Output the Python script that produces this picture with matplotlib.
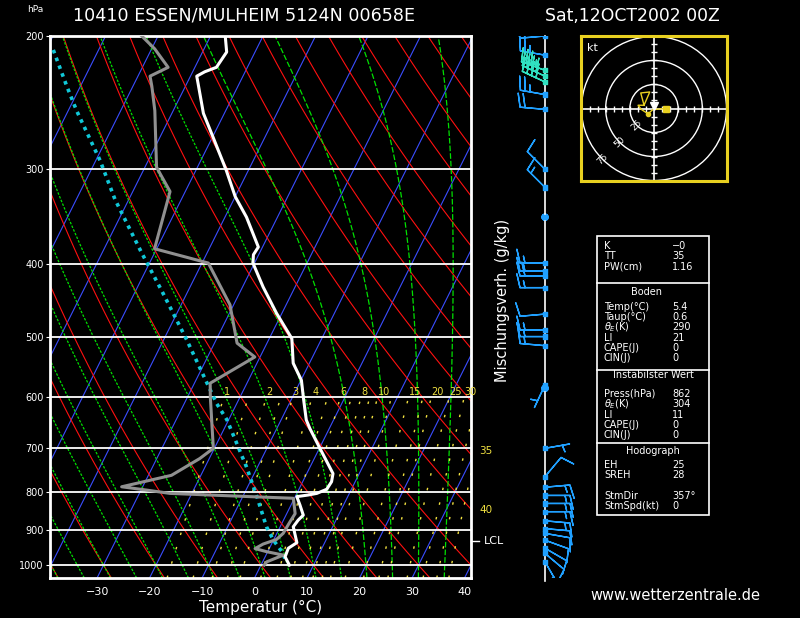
import numpy as np
import matplotlib.pyplot as plt
from matplotlib.transforms import Affine2D
from matplotlib.ticker import NullLocator
from matplotlib.patches import Rectangle, Circle

# ---- Sounding (hPa, degC) ----
temp_p = [1000, 975, 950, 934, 890, 872, 859, 833, 812, 808, 804, 794, 776, 757,
          701, 660, 643, 602, 570, 541, 502, 465, 429, 399, 389, 380, 347, 326,
          301, 272, 253, 233, 226, 223, 220, 210, 200]
temp_t = [5.4, 3.8, 3.6, 4.7, 2.5, 2.8, 3.3, 1.7, 0.3, 2.3, 3.8, 5.3, 5.5, 5.0,
          0.1, -3.7, -5.2, -7.8, -9.9, -13.1, -15.7, -21.0, -26.1, -30.3, -31.0, -30.8, -35.9, -40.0,
          -44.2, -49.9, -54.0, -57.5, -58.8, -57.7, -55.9, -55.4, -57.2]

dew_p = [1000, 990, 970, 960, 951, 938, 925, 908, 877, 855, 816, 812, 804, 796,
         788, 761, 723, 701, 599, 575, 531, 509, 453, 399, 382, 321, 304, 298,
         251, 233, 226, 220, 208, 200]
dew_t = [0.6, 0.8, 3.3, -0.2, -2.7, -1.6, 0.5, 1.2, 1.4, 1.6, -0.2, -8.6, -24.2, -28.9,
         -34.0, -25.6, -21.8, -20.2, -25.7, -27.0, -21.0, -25.7, -30.7, -38.8, -50.4, -52.9, -56.5, -57.8,
         -63.5, -66.4, -67.7, -65.1, -69.4, -73.1]

parcel_p = [980, 965, 927, 890, 812, 742, 643, 612, 575, 504, 435, 386, 329, 292, 251, 233, 208]
parcel_t = [3.9, 3.1, 0.0, -2.6, -7.3, -12.1, -20.3, -23.8, -27.6, -35.6, -44.9, -52.6,
            -62.6, -69.2, -78.4, -82.6, -88.8]

lcl_p = 930

# wind profile: pressure, direction (deg), speed (kt)
wind_p = [200, 212, 222, 226, 230, 239, 250, 300, 317, 347, 399, 409, 415, 430, 466,
          489, 499, 513, 578, 584, 701, 764, 789, 809, 829, 850, 874, 895, 908, 927,
          950, 965, 990]
wind_dir = [265, 280, 290, 295, 295, 280, 275, 315, 315, 0, 270, 270, 270, 270, 265,
            270, 270, 275, 205, 0, 80, 40, 85, 90, 90, 90, 95, 95, 100, 110,
            120, 130, 150]
wind_spd = [20, 25, 35, 40, 40, 25, 20, 10, 15, 0, 15, 15, 20, 15, 10,
            15, 15, 15, 5, 0, 5, 10, 15, 15, 15, 15, 15, 10, 10, 10,
            10, 10, 5]

# hodograph trace (kt)
hodo_u = [12.0, -1.0, -6.2, -13.1, -16.5, -10.3, -13.7, -4.4, -10.3]
hodo_v = [0.0, -1.0, -5.5, -1.0, 3.4, 3.4, 16.2, 17.2, 3.4]

# diagram background
isobars = [200, 300, 400, 500, 600, 700, 800, 900, 1000]
isotherms = np.arange(-130, 50, 10)
dry_theta = np.arange(-50, 170, 10) + 273.15
moist_tw = np.arange(-40, 36, 5)
mix_w = [1, 1.5, 2, 2.5, 3, 4, 5, 6, 7, 8, 9, 10, 12, 15, 18, 20, 25, 30, 35, 40]
mix_labels = [1, 2, 3, 4, 6, 8, 10, 15, 20, 25, 30]

table_top = [('K', '\u22120'), ('TT', '35'), ('PW(cm)', '1.16')]
table_boden = [('Temp(\u00b0C)', '5.4'), ('Taup(\u00b0C)', '0.6'), (r'$\theta_E$(K)', '290'),
               ('LI', '21'), ('CAPE(J)', '0'), ('CIN(J)', '0')]
table_inst = [('Press(hPa)', '862'), (r'$\theta_E$(K)', '304'), ('LI', '11'),
              ('CAPE(J)', '0'), ('CIN(J)', '0')]
table_hodo = [('EH', '25'), ('SREH', '28'), (None, None), ('StmDir', '357\u00b0'), ('StmSpd(kt)', '0')]


def moist_lapse(t, p):
    es = 6.112 * np.exp(17.67 * (t - 273.15) / (t - 29.65))
    rs = 0.622 * es / (p - es)
    return (287.04 * t + 2.501e6 * rs) / (1005.7 + 2.501e6 ** 2 * rs * 0.622 / (287.04 * t ** 2))


def moist_adiabat(tw, pres):
    t = tw + 273.15
    out = [t]
    for p0, p1 in zip(pres[:-1], pres[1:]):
        h = np.log(p1 / p0)
        pm = p0 * np.exp(h / 2)
        k1 = moist_lapse(t, p0)
        k2 = moist_lapse(t + h / 2 * k1, pm)
        k3 = moist_lapse(t + h / 2 * k2, pm)
        k4 = moist_lapse(t + h * k3, p1)
        t = t + h / 6 * (k1 + 2 * k2 + 2 * k3 + k4)
        out.append(t)
    return np.array(out) - 273.15


def dewpoint_from_w(w, p):
    e = w * p / (622 + w)
    a = np.log(e / 6.112)
    return 243.5 * a / (17.67 - a)


fig = plt.figure(figsize=(8, 6.18), dpi=100, facecolor='black')

# ---- Skew-T ----
ax = fig.add_axes([50 / 800, 40 / 618, 421 / 800, 542 / 618])
ax.set_facecolor('black')
ax.set_yscale('log')
ax.set_ylim(1040, 200)
ax.set_xlim(-38.96, 41.23)
ax.set_autoscale_on(False)
skew = (ax.transData - ax.transAxes) + Affine2D().skew(np.arctan(0.5 * 542 / 421), 0) + ax.transAxes

p_full = np.geomspace(1040, 200, 60)
for t in isotherms:
    ax.plot([t, t], [1040, 200], color='#3a4dff', lw=0.8, transform=skew, zorder=1)
for th in dry_theta:
    ax.plot(th * (p_full / 1000) ** 0.2857 - 273.15, p_full, color='#ff1010', lw=0.8,
            transform=skew, zorder=1)

p_up = np.geomspace(1000, 200, 90)
p_down = np.geomspace(1000, 1040, 5)
for tw in moist_tw:
    ls = (0, (2.0, 1.2)) if tw <= 15 else (0, (4.5, 1.6))
    t_up = moist_adiabat(tw, p_up)
    t_down = moist_adiabat(tw, p_down)
    ax.plot(np.r_[t_down[::-1], t_up], np.r_[p_down[::-1], p_up], color='#00e000', lw=0.9,
            linestyle=ls, transform=skew, zorder=1)

p_mix = np.geomspace(1040, 600, 30)
for w in mix_w:
    ax.plot(dewpoint_from_w(w, p_mix), p_mix, color='#f0e040', lw=1.0, linestyle=(0, (1.8, 9)),
            transform=skew, zorder=1)
for w in mix_labels:
    ax.text(dewpoint_from_w(w, 600), 600, str(w), color='#f0e040', fontsize=7,
            ha='left', va='bottom', transform=skew, zorder=6, clip_on=False)

for p in isobars[1:]:
    ax.axhline(p, color='white', lw=1.3, zorder=2)

# sounding curves
ax.plot(parcel_t, parcel_p, color='#10c8d8', lw=2.6, linestyle=(0, (1, 1.3)), transform=skew, zorder=4)
ax.plot(dew_t, dew_p, color='#909090', lw=2.2, transform=skew, zorder=5)
ax.plot(temp_t, temp_p, color='white', lw=2.2, transform=skew, zorder=6)

# labels at the right edge
ytrans = ax.get_yaxis_transform()
ax.plot([1.0, 1.02], [lcl_p, lcl_p], color='white', lw=1, transform=ytrans, clip_on=False)
ax.text(1.03, lcl_p, 'LCL', color='white', fontsize=8, va='center', transform=ytrans)
for lab, p in [('35', 707), ('40', 846)]:
    ax.text(1.02, p, lab, color='#f0e040', fontsize=7.5, va='center', transform=ytrans)

for s in ax.spines.values():
    s.set_color('white')
    s.set_linewidth(2)
ax.set_yticks(isobars)
ax.set_yticklabels([str(p) for p in isobars])
ax.yaxis.set_minor_locator(NullLocator())
ax.tick_params(axis='y', colors='white', labelsize=7, length=3, pad=1.5)
ax.set_xticks(range(-30, 41, 10))
ax.tick_params(axis='x', colors='white', labelsize=8, length=0, pad=6.5)
ax.set_xlabel('Temperatur (\u00b0C)', color='white', fontsize=11, labelpad=2)

# ---- Wind barbs ----
axw = fig.add_axes([505 / 800, 40 / 618, 80 / 800, 542 / 618])
axw.set_facecolor('none')
axw.set_yscale('log')
axw.set_ylim(1040, 200)
axw.set_xlim(-1, 1)
axw.axis('off')
axw.axvline(0, ymin=-0.005, ymax=1, color='white', lw=1.2, clip_on=False)
wd = np.radians(wind_dir)
wu = -np.array(wind_spd) * np.sin(wd)
wv = -np.array(wind_spd) * np.cos(wd)
wcol = ['#20a0ff' if s < 30 else '#30e0c0' for s in wind_spd]
axw.barbs(np.zeros(len(wind_p)), wind_p, wu, wv, length=6, barbcolor=wcol, flagcolor=wcol,
          linewidth=1, sizes=dict(emptybarb=0.12, spacing=0.2, height=0.55))
axw.scatter(np.zeros(len(wind_p)), wind_p, marker='s', s=9, c=wcol, zorder=3)

# ---- Hodograph ----
axh = fig.add_axes([581 / 800, (618 - 181) / 618, 146 / 800, 145 / 618])
axh.set_facecolor('black')
axh.set_xlim(-75.5, 75.5)
axh.set_ylim(-75.5, 75.5)
axh.set_xticks([])
axh.set_yticks([])
for s in axh.spines.values():
    s.set_color('#e8d020')
    s.set_linewidth(2.2)
for r in [25, 50, 75]:
    axh.add_patch(Circle((0, 0), r, fill=False, ec='white', lw=1))
    axh.text(-r * 0.7071, -r * 0.7071, str(r), color='white', fontsize=6.5, rotation=45,
             ha='center', va='center')
axh.axhline(0, color='white', lw=1.2)
axh.axvline(0, color='white', lw=1.2)
hticks = np.arange(-75, 76, 25 / 3)
hticks = hticks[np.abs(hticks) > 1]
axh.plot(hticks, np.zeros_like(hticks), '|', ms=5, color='white', mew=1)
axh.plot(np.zeros_like(hticks), hticks, '_', ms=5, color='white', mew=1)
axh.plot(hodo_u, hodo_v, color='#e8d020', lw=1)
axh.plot(hodo_u[0], hodo_v[0], 's', ms=4, color='#e8d020')
axh.plot(hodo_u[2], hodo_v[2], 'o', ms=3, color='#e8d020')
axh.plot(0.5, 3, 'v', ms=6, color='white')
axh.text(0.04, 0.95, 'kt', color='white', fontsize=8, transform=axh.transAxes, va='top')

# ---- Texts and table in pixel coordinates ----
ov = fig.add_axes([0, 0, 1, 1])
ov.set_xlim(0, 800)
ov.set_ylim(618, 0)
ov.axis('off')
ov.patch.set_visible(False)

ov.text(73, 16, '10410 ESSEN/MULHEIM 5124N 00658E', color='white', fontsize=12.6, ha='left', va='center')
ov.text(632, 16, 'Sat,12OCT2002 00Z', color='white', fontsize=12.4, ha='center', va='center')
ov.text(27, 10, 'hPa', color='white', fontsize=6.5, ha='left', va='center')
ov.text(503, 300, 'Mischungsverh. (g/kg)', color='white', fontsize=10.5, rotation=90,
        ha='center', va='center')
ov.text(675, 595, 'www.wetterzentrale.de', color='white', fontsize=10.5, ha='center', va='center')

ov.add_patch(Rectangle((597, 236), 112, 279, fill=False, ec='white', lw=1.2))
for y in [283.3, 370, 443.3]:
    ov.plot([597, 709], [y, y], color='white', lw=1.2)

row_h = 10.3
def put_rows(rows, y0):
    for i, (name, val) in enumerate(rows):
        if name is None:
            continue
        y = y0 + i * row_h
        ov.text(604, y, name, color='white', fontsize=7, ha='left', va='center')
        ov.text(672, y, val, color='white', fontsize=7, ha='left', va='center')

put_rows(table_top, 246)
ov.text(647, 291.7, 'Boden', color='white', fontsize=7, ha='center', va='center')
put_rows(table_boden, 306.7)
ov.text(653, 375, 'Instabilster Wert', color='white', fontsize=7, ha='center', va='center')
put_rows(table_inst, 394)
ov.text(653, 450.7, 'Hodograph', color='white', fontsize=7, ha='center', va='center')
put_rows(table_hodo, 465)

fig.savefig('out.png', dpi=100, facecolor='black')
